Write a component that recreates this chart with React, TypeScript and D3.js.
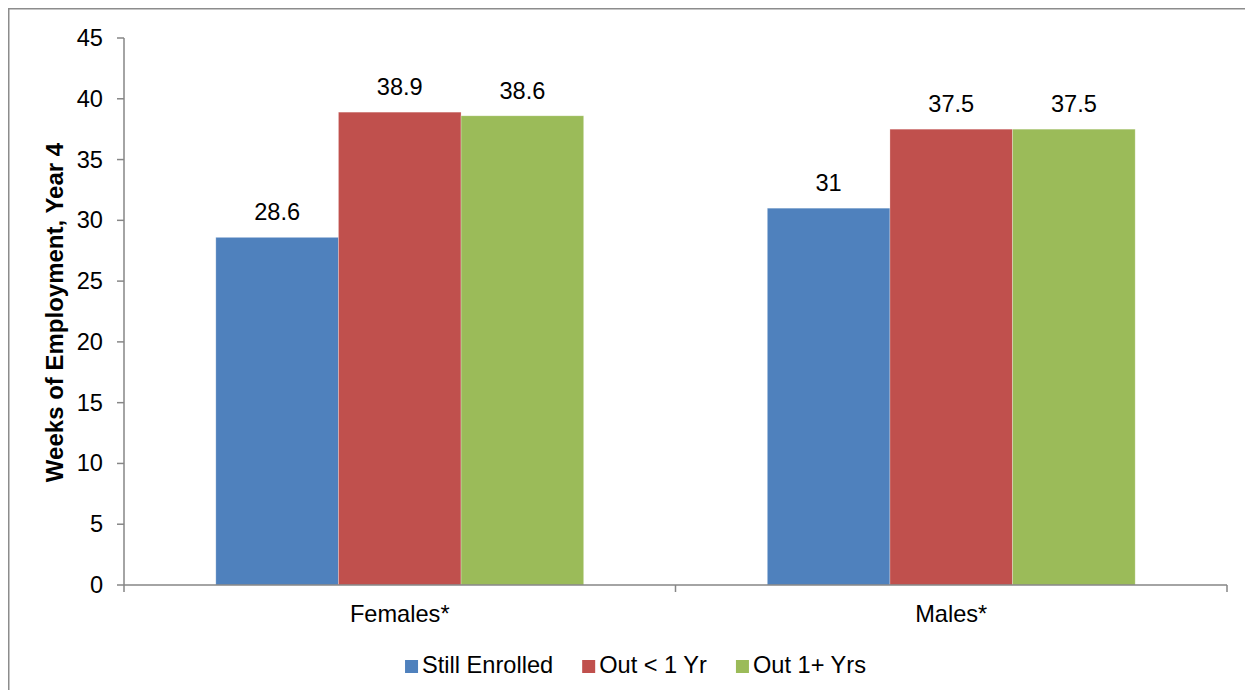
import React, { useEffect, useRef } from "react";
import * as d3 from "d3";

const categories = ["Females*", "Males*"];
const seriesNames = ["Still Enrolled", "Out < 1 Yr", "Out 1+ Yrs"];
const stillEnrolled = [28.6, 31];
const outLessOne = [38.9, 37.5];
const outOnePlus = [38.6, 37.5];
const yTicks = [0, 5, 10, 15, 20, 25, 30, 35, 40, 45];
const colors = ["#4F81BD", "#C0504D", "#9BBB59"];
const yTitle = "Weeks of Employment, Year 4";

const W = 1245;
const H = 682;
const FONT = "'Liberation Sans', Arial, sans-serif";
const FS = 23.6;

export default function App() {
  const ref = useRef<SVGSVGElement | null>(null);

  useEffect(() => {
    const svg = d3.select(ref.current);
    svg.selectAll("*").remove();

    const left = 116;
    const right = 1219;
    const top = 30;
    const bottom = 577;
    const axisColor = "#868686";

    // outer border (top & left visible)
    svg.append("path")
      .attr("d", `M0.75,${H} V0.75 H${W}`)
      .attr("fill", "none")
      .attr("stroke", "#8c8c8c")
      .attr("stroke-width", 1.5);

    const y = d3.scaleLinear().domain([0, 45]).range([bottom, top]);
    const x0 = d3.scaleBand<string>()
      .domain(categories)
      .range([left, right])
      .paddingInner(0.333)
      .paddingOuter(0.1665);
    const x1 = d3.scaleBand<string>()
      .domain(seriesNames)
      .range([0, x0.bandwidth()])
      .padding(0);

    const seriesData = [stillEnrolled, outLessOne, outOnePlus];

    // bars
    categories.forEach((cat, ci) => {
      const g = svg.append("g").attr("transform", `translate(${x0(cat)},0)`);
      seriesNames.forEach((s, si) => {
        const v = seriesData[si][ci];
        g.append("rect")
          .attr("x", x1(s)!)
          .attr("y", y(v))
          .attr("width", x1.bandwidth())
          .attr("height", y(0) - y(v))
          .attr("fill", colors[si])
          .attr("stroke", "rgba(255,255,255,0.35)")
          .attr("stroke-width", 0.75);
        g.append("text")
          .attr("x", x1(s)! + x1.bandwidth() / 2)
          .attr("y", y(v) - 17)
          .attr("text-anchor", "middle")
          .attr("font-family", FONT)
          .attr("font-size", FS)
          .attr("fill", "#000")
          .text(String(v));
      });
    });

    // y axis
    svg.append("line")
      .attr("x1", left).attr("x2", left)
      .attr("y1", top).attr("y2", bottom)
      .attr("stroke", axisColor).attr("stroke-width", 1.5);
    yTicks.forEach((t) => {
      svg.append("line")
        .attr("x1", left - 7).attr("x2", left)
        .attr("y1", y(t)).attr("y2", y(t))
        .attr("stroke", axisColor).attr("stroke-width", 1.5);
      svg.append("text")
        .attr("x", left - 21)
        .attr("y", y(t) + 8)
        .attr("text-anchor", "end")
        .attr("font-family", FONT)
        .attr("font-size", FS)
        .attr("fill", "#000")
        .text(String(t));
    });

    // x axis
    svg.append("line")
      .attr("x1", left).attr("x2", right)
      .attr("y1", bottom).attr("y2", bottom)
      .attr("stroke", axisColor).attr("stroke-width", 1.5);
    const step = x0.step();
    const boundaries = [left, ...categories.map((c) => (x0(c)! + x0.bandwidth() / 2) + step / 2)];
    boundaries.forEach((bx) => {
      svg.append("line")
        .attr("x1", bx).attr("x2", bx)
        .attr("y1", bottom).attr("y2", bottom + 7)
        .attr("stroke", axisColor).attr("stroke-width", 1.5);
    });
    categories.forEach((c) => {
      svg.append("text")
        .attr("x", x0(c)! + x0.bandwidth() / 2)
        .attr("y", 614)
        .attr("text-anchor", "middle")
        .attr("font-family", FONT)
        .attr("font-size", FS)
        .attr("fill", "#000")
        .text(c);
    });

    // y title
    svg.append("text")
      .attr("transform", `translate(55,304.5) rotate(-90)`)
      .attr("text-anchor", "middle")
      .attr("font-family", FONT)
      .attr("font-size", 24)
      .attr("font-weight", "bold")
      .attr("fill", "#000")
      .text(yTitle);

    // legend
    const legend = svg.append("g");
    const sq = 13;
    const gapSqText = 4;
    const gapItems = 29;
    let cx = 0;
    seriesNames.forEach((s, i) => {
      const item = legend.append("g").attr("transform", `translate(${cx},0)`);
      item.append("rect")
        .attr("x", 0).attr("y", -sq)
        .attr("width", sq).attr("height", sq)
        .attr("fill", colors[i]);
      const t = item.append("text")
        .attr("x", sq + gapSqText)
        .attr("y", 0)
        .attr("font-family", FONT)
        .attr("font-size", FS)
        .attr("fill", "#000")
        .text(s);
      const w = (t.node() as SVGTextElement).getComputedTextLength();
      cx += sq + gapSqText + w + gapItems;
    });
    const totalW = cx - gapItems;
    const centerX = 627.5;
    legend.attr("transform", `translate(${centerX - totalW / 2},665)`);
  }, []);

  return (
    <svg
      ref={ref}
      width={W}
      height={H}
      style={{ display: "block", background: "#fff" }}
    />
  );
}
